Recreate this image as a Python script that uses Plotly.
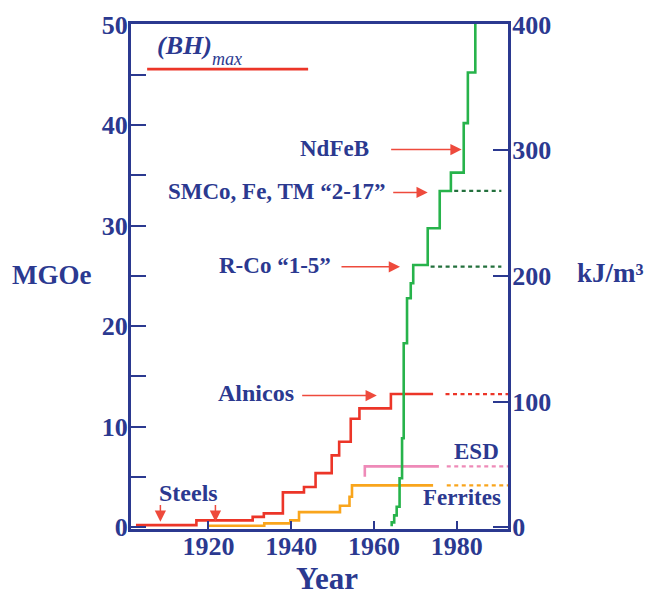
import plotly.graph_objects as go

NAVY = "#2b3990"
FONT = "Liberation Serif"

# ---- data (MGOe vs year) ----
alnico_x = [1902.5, 1917.1, 1930.7, 1933.4, 1938.0, 1943.1, 1945.9, 1949.8, 1951.6, 1954.4, 1956.5, 1964.1, 1974.3]
alnico_y = [0.22, 0.69, 1.04, 1.38, 3.47, 4.0, 5.39, 7.15, 8.5, 10.8, 11.83, 13.25, 13.25]
alnico_proj_x = [1977.3, 1992.4]
alnico_proj_y = [13.25, 13.25]

ferrite_x = [1920.0, 1933.5, 1939.8, 1941.9, 1951.8, 1954.1, 1954.7, 1974.3]
ferrite_y = [0.15, 0.39, 0.69, 1.51, 2.14, 3.03, 4.17, 4.17]
ferrite_proj_x = [1977.6, 1992.4]
ferrite_proj_y = [4.17, 4.17]

esd_x = [1957.8, 1957.8, 1975.7]
esd_y = [5.02, 6.06, 6.06]
esd_proj_x = [1977.6, 1992.4]
esd_proj_y = [6.06, 6.06]

re_x = [1964.3, 1964.3, 1964.9, 1965.5, 1966.2, 1966.8, 1967.2, 1968.0, 1968.9, 1969.5,
        1973.0, 1975.9, 1978.6, 1981.7, 1982.7, 1984.5]
re_y = [0.1, 0.49, 1.18, 2.04, 4.87, 8.85, 18.3, 22.78, 24.27, 26.09,
        29.74, 33.45, 35.27, 40.19, 45.22, 50.05]
rco15_proj_x = [1973.7, 1990.8]
rco15_proj_y = [25.92, 25.92]
smco217_proj_x = [1979.4, 1990.8]
smco217_proj_y = [33.45, 33.45]

legend_x = [1905.2, 1944.1]
legend_y = [45.56, 45.56]

left_ticks = [0, 5, 10, 15, 20, 25, 30, 35, 40, 45, 50]
left_labels = ["0", "", "10", "", "20", "", "30", "", "40", "", "50"]
right_ticks = [0, 100, 200, 300, 400]
x_ticks = [1920, 1940, 1960, 1980]

# labels: (text, x, y, xanchor, size)
labels = [
    ("NdFeB", 1959.4, 37.7, "right", 23),
    ("SMCo, Fe, TM “2-17”", 1963.2, 33.4, "right", 23),
    ("R-Co “1-5”", 1950.0, 26.0, "right", 23),
    ("Alnicos", 1941.2, 13.4, "right", 24),
    ("Steels", 1915.1, 3.44, "center", 24),
    ("ESD", 1990.6, 7.57, "right", 23),
    ("Ferrites", 1991.2, 2.95, "right", 23),
]
# arrows: (tail_x, tail_y, head_x, head_y)
arrows = [
    (1963.8, 37.57, 1981.2, 37.57),
    (1964.3, 33.3, 1973.0, 33.3),
    (1951.8, 25.9, 1966.3, 25.9),
    (1942.3, 13.1, 1960.7, 13.1),
    (1908.4, 2.37, 1908.4, 0.55),
    (1921.7, 2.37, 1921.7, 0.55),
]

RED = "#ec3528"
ORANGE = "#f9a51c"
PINK = "#ee8ab8"
GREEN = "#27b34b"
DKGREEN = "#23703d"
DOT = "4px,3.5px"

fig = go.Figure()

def step(x, y, color, width=2.6):
    fig.add_trace(go.Scatter(x=x, y=y, mode="lines", line=dict(color=color, width=width, shape="hv"),
                             hoverinfo="skip", showlegend=False))

def dotted(x, y, color, width=2.2):
    fig.add_trace(go.Scatter(x=x, y=y, mode="lines", line=dict(color=color, width=width, dash=DOT),
                             hoverinfo="skip", showlegend=False))

step(ferrite_x, ferrite_y, ORANGE)
step(esd_x, esd_y, PINK)
step(alnico_x, alnico_y, RED)
step(re_x, re_y, GREEN)
dotted(alnico_proj_x, alnico_proj_y, RED)
dotted(esd_proj_x, esd_proj_y, PINK)
dotted(ferrite_proj_x, ferrite_proj_y, ORANGE)
dotted(rco15_proj_x, rco15_proj_y, DKGREEN)
dotted(smco217_proj_x, smco217_proj_y, DKGREEN)
fig.add_trace(go.Scatter(x=legend_x, y=legend_y, mode="lines", line=dict(color=RED, width=2.6),
                         hoverinfo="skip", showlegend=False))
fig.add_trace(go.Scatter(x=[], y=[], yaxis="y2", showlegend=False))

for text, x, y, xa, size in labels:
    fig.add_annotation(x=x, y=y, text=text, showarrow=False, xanchor=xa, yanchor="middle",
                       font=dict(family=FONT, size=size, color=NAVY, weight="bold"))

for tx, ty, hx, hy in arrows:
    fig.add_annotation(x=hx, y=hy, ax=tx, ay=ty, axref="x", ayref="y", text="",
                       showarrow=True, arrowhead=2, arrowsize=1.5, arrowwidth=1.5,
                       arrowcolor="#ee4a3c", standoff=0, startstandoff=0)

fig.add_annotation(x=1907.0, y=47.93, text="<i>(BH)</i>", showarrow=False, xanchor="left",
                   yanchor="middle", font=dict(family=FONT, size=26, color=NAVY, weight="bold"))
fig.add_annotation(x=1920.5, y=46.6, text="<i>max</i>", showarrow=False, xanchor="left",
                   yanchor="middle", font=dict(family=FONT, size=18, color=NAVY))

fig.add_annotation(x=-0.2103, y=0.5035, xref="paper", yref="paper", text="MGOe", showarrow=False,
                   xanchor="center", yanchor="middle",
                   font=dict(family=FONT, size=27, color=NAVY, weight="bold"))
fig.add_annotation(x=1.273, y=0.507, xref="paper", yref="paper", text="kJ/m³", showarrow=False,
                   xanchor="center", yanchor="middle",
                   font=dict(family=FONT, size=27, color=NAVY, weight="bold"))
fig.add_annotation(x=0.52, y=-0.099, xref="paper", yref="paper", text="Year", showarrow=False,
                   xanchor="center", yanchor="middle",
                   font=dict(family=FONT, size=31, color=NAVY, weight="bold"))

tickfont = dict(family=FONT, size=26, color=NAVY, weight="bold")
fig.update_layout(
    width=645, height=595,
    margin=dict(l=131, r=137, t=24, b=66, autoexpand=False),
    paper_bgcolor="white", plot_bgcolor="white",
    xaxis=dict(range=[1901.3, 1992.4], tickvals=x_ticks, ticks="inside", ticklen=8, tickwidth=2,
               tickcolor=NAVY, showline=True, linewidth=3, linecolor=NAVY, mirror=True,
               showgrid=False, zeroline=False, tickfont=tickfont, automargin=False,
               ticklabelstandoff=-8),
    yaxis=dict(range=[-0.17, 50.05], tickvals=left_ticks, ticktext=left_labels, ticks="inside",
               ticklen=15, tickwidth=2, tickcolor=NAVY, showline=True, linewidth=3, linecolor=NAVY,
               showgrid=False, zeroline=False, tickfont=tickfont, automargin=False,
               ticklabelstandoff=-5),
    yaxis2=dict(range=[-1.35, 400.5], tickvals=right_ticks, overlaying="y", side="right",
                ticks="inside", ticklen=15, tickwidth=2, tickcolor=NAVY, showline=True, linewidth=3,
                linecolor=NAVY, showgrid=False, zeroline=False, tickfont=tickfont, automargin=False,
                ticklabelstandoff=-4),
)

fig.write_html("out.html", config={"displayModeBar": False},
               post_script="document.body.style.margin='0';document.body.style.overflow='hidden';")
